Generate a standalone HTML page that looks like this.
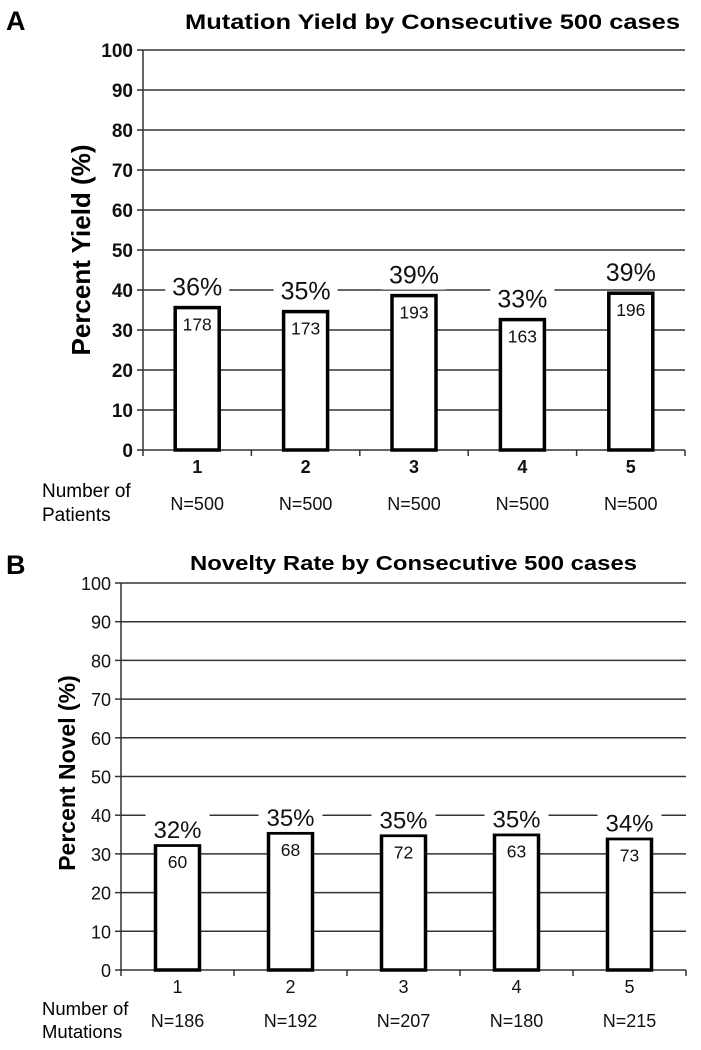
<!DOCTYPE html>
<html><head><meta charset="utf-8"><style>
html,body{margin:0;padding:0;background:#fff;}
svg{display:block;font-family:"Liberation Sans",Arial,sans-serif;}
</style></head><body>
<svg id="fig" width="701" height="1050" viewBox="0 0 701 1050"></svg>
<script>
const catsA = ["1","2","3","4","5"];
const countsA = [178,173,193,163,196];
const nA = [500,500,500,500,500];
const pctLabelsA = ["36%","35%","39%","33%","39%"];
const catsB = ["1","2","3","4","5"];
const countsB = [60,68,72,63,73];
const nB = [186,192,207,180,215];
const pctLabelsB = ["32%","35%","35%","35%","34%"];
const ticks = [0,10,20,30,40,50,60,70,80,90,100];

const NS="http://www.w3.org/2000/svg";
const svg=document.getElementById('fig');
function mk(tag,attrs,parent,text){const e=document.createElementNS(NS,tag);for(const k in attrs)e.setAttribute(k,attrs[k]);if(text!==undefined)e.textContent=text;(parent||svg).appendChild(e);return e;}

function chart(o){
  const g=mk('g',{});
  
  
  const y=v=>o.y0-(v/100)*(o.y0-o.y100);
  const cw=(o.x1-o.x0)/o.cats.length;
  const xc=i=>o.x0+cw*(i+0.5);
  ticks.forEach(t=>{
    if(t>0){const l=mk('line',{x1:o.x0,x2:o.x1,y1:y(t),y2:y(t),stroke:'#333','stroke-width':1.5},g);
      
      }
    const tk=mk('line',{x1:o.x0-6,x2:o.x0,y1:y(t),y2:y(t),stroke:'#333','stroke-width':1.5},g);
    
    
    const tl=mk('text',{x:o.x0-10,y:y(t)+7,'text-anchor':'end','font-size':o.tickSize,'font-weight':o.bold?'bold':'normal',fill:'#111'},g,String(t));
    
    
  });
  const ya=mk('line',{x1:o.x0,x2:o.x0,y1:o.y100,y2:o.y0,stroke:'#333','stroke-width':1.5},g);
  
  
  const xa=mk('line',{x1:o.x0,x2:o.x1,y1:o.y0,y2:o.y0,stroke:'#333','stroke-width':1.5},g);
  
  
  for(let i=0;i<=o.cats.length;i++){
    const t=mk('line',{x1:o.x0+cw*i,x2:o.x0+cw*i,y1:o.y0,y2:o.y0+6,stroke:'#333','stroke-width':1.5},g);
    
    
  }
  o.cats.forEach((c,i)=>{
    const v=o.counts[i]/o.n[i]*100;
    const bw=44;
    const r=mk('rect',{x:xc(i)-bw/2,y:y(v),width:bw,height:o.y0-y(v),fill:'#fff',stroke:'#000','stroke-width':3.5},g);
    
    
    const bg=mk('rect',{x:xc(i)-32,y:y(v)-o.lblOff-15,width:64,height:30,fill:'#fff'},g);
    
    
    const pl=mk('text',{x:xc(i),y:y(v)-o.lblOff+9,'text-anchor':'middle','font-size':o.pctSize,fill:'#111'},g,o.pct[i]);
    
    
    const cl=mk('text',{x:xc(i),y:y(v)+23,'text-anchor':'middle','font-size':17.5,fill:'#111'},g,String(o.counts[i]));
    
    
    const xl=mk('text',{x:xc(i),y:o.y0+23,'text-anchor':'middle','font-size':18,'font-weight':o.bold?'bold':'normal',fill:'#111'},g,c);
    
    
    const nl=mk('text',{x:xc(i),y:o.nY,'text-anchor':'middle','font-size':18,fill:'#111'},g,'N='+o.n[i]);
    
    
  });
}

chart({name:'chart-a',cats:catsA,counts:countsA,n:nA,pct:pctLabelsA,x0:143,x1:685,y0:450,y100:50,bold:true,lblOff:21,nY:510,tickSize:19,pctSize:25});
chart({name:'chart-b',cats:catsB,counts:countsB,n:nB,pct:pctLabelsB,x0:121,x1:686,y0:970,y100:583,bold:false,lblOff:16,nY:1027,tickSize:18,pctSize:24});

function txt(name,attrs,s){const t=mk('text',attrs,svg,s);return t;}
txt('panel-label-a',{x:6,y:30,'font-size':27,'font-weight':'bold'},'A');
txt('panel-label-b',{x:6,y:574,'font-size':27,'font-weight':'bold'},'B');
txt('chart-a-title',{x:185,y:29,'font-size':21,'font-weight':'bold',textLength:495,lengthAdjust:'spacingAndGlyphs'},'Mutation Yield by Consecutive 500 cases');
txt('chart-b-title',{x:190,y:570,'font-size':20,'font-weight':'bold',textLength:447,lengthAdjust:'spacingAndGlyphs'},'Novelty Rate by Consecutive 500 cases');
txt('y-axis-title-a',{x:0,y:0,transform:'translate(90,250) rotate(-90)','text-anchor':'middle','font-size':26,'font-weight':'bold'},'Percent Yield (%)');
txt('y-axis-title-b',{x:0,y:0,transform:'translate(75,773) rotate(-90)','text-anchor':'middle','font-size':23,'font-weight':'bold'},'Percent Novel (%)');
txt('x-label-a-line1',{x:42,y:497,'font-size':19},'Number of');
txt('x-label-a-line2',{x:42,y:521,'font-size':19},'Patients');
txt('x-label-b-line1',{x:42,y:1015,'font-size':18.5},'Number of');
txt('x-label-b-line2',{x:42,y:1038,'font-size':18.5},'Mutations');
</script>
</body></html>
